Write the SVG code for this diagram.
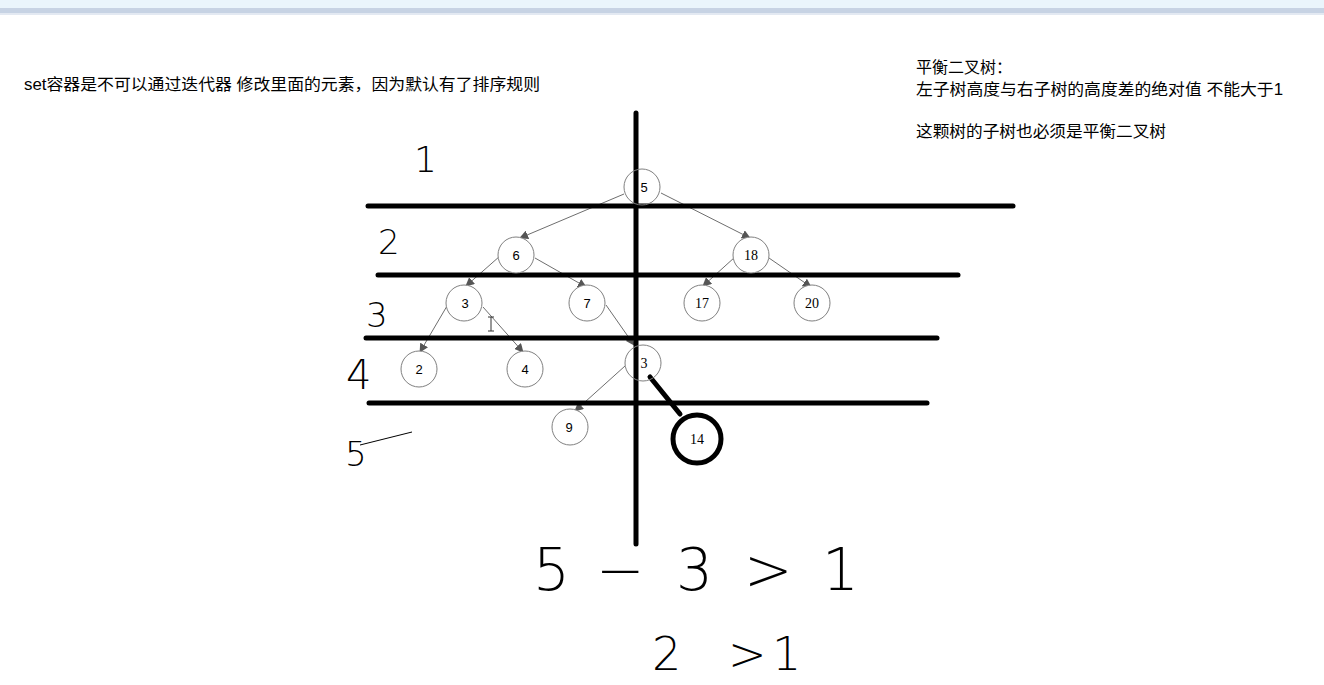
<svg xmlns="http://www.w3.org/2000/svg" width="1324" height="685" viewBox="0 0 1324 685">
<style>
.node circle{fill:#fff;stroke:#808080;stroke-width:1}
.lbl{font-family:"Liberation Sans",Arial,sans-serif;font-size:13px;fill:#000;text-anchor:middle}
.lbls{font-family:"Liberation Serif","Times New Roman",serif;font-size:14px;fill:#000;text-anchor:middle}
.edge{stroke:#6e6e6e;stroke-width:1;fill:none;marker-end:url(#arr)}
.bar{stroke:#000;stroke-width:5;stroke-linecap:round}
.note{font-family:"Liberation Sans","Noto Sans CJK SC",sans-serif;font-size:16px;fill:#000}
.hand{font-family:"DejaVu Sans","Liberation Sans",sans-serif;font-weight:200;fill:#000}
</style>
<defs>
<marker id="arr" viewBox="0 0 10 10" refX="9" refY="5" markerWidth="9" markerHeight="9" markerUnits="userSpaceOnUse" orient="auto">
<path d="M0,0 L10,5 L0,10 z" fill="#555"/>
</marker>
</defs>
<rect width="1324" height="685" fill="#fff"/>
<g id="topbar">
<rect x="0" y="0" width="1324" height="8" fill="#eaf5fc"/>
<rect x="0" y="8" width="1324" height="5" fill="#c7d3e4"/>
<rect x="0" y="13" width="1324" height="2" fill="#e3e9f2"/>
</g>
<g id="notes">
<text class="note" x="24" y="90" textLength="516" lengthAdjust="spacingAndGlyphs">set容器是不可以通过迭代器 修改里面的元素，因为默认有了排序规则</text>
<text class="note" x="916" y="73">平衡二叉树：</text>
<text class="note" x="916" y="95" textLength="367" lengthAdjust="spacingAndGlyphs">左子树高度与右子树的高度差的绝对值 不能大于1</text>
<text class="note" x="916" y="137" textLength="250" lengthAdjust="spacingAndGlyphs">这颗树的子树也必须是平衡二叉树</text>
</g>
<g id="connectors">
<line class="edge" x1="624" y1="194" x2="520" y2="238"/>
<line class="edge" x1="661" y1="193" x2="750" y2="238"/>
<line class="edge" x1="500" y1="256" x2="466" y2="286"/>
<line class="edge" x1="535" y1="258" x2="586" y2="287"/>
<line class="edge" x1="735" y1="257" x2="703" y2="286"/>
<line class="edge" x1="769" y1="258" x2="811" y2="287"/>
<line class="edge" x1="447" y1="306" x2="420" y2="352"/>
<line class="edge" x1="483" y1="307" x2="523" y2="352"/>
<line class="edge" x1="606" y1="305" x2="634" y2="345"/>
<line class="edge" x1="625" y1="366" x2="575" y2="411"/>
</g>
<g id="guides">
<line class="bar" x1="636" y1="113" x2="636" y2="544"/>
<line class="bar" x1="368" y1="206" x2="1013" y2="206"/>
<line class="bar" x1="378" y1="275" x2="958" y2="275"/>
<line class="bar" x1="366" y1="338" x2="937" y2="338"/>
<line class="bar" x1="369" y1="403" x2="927" y2="403"/>
<line class="bar" x1="650" y1="377" x2="680" y2="414"/>
</g>
<g id="n5" class="node"><circle cx="642" cy="187" r="18" style="fill:none"/><text class="lbl" x="644" y="192">5</text></g>
<g id="n6" class="node"><circle cx="516" cy="255" r="18"/><text class="lbl" x="516" y="260">6</text></g>
<g id="n18" class="node"><circle cx="751" cy="255" r="18"/><text class="lbls" x="751" y="260">18</text></g>
<g id="n3a" class="node"><circle cx="464" cy="303" r="18"/><text class="lbl" x="465" y="308">3</text></g>
<g id="n7" class="node"><circle cx="587" cy="303" r="18"/><text class="lbl" x="587" y="308">7</text></g>
<g id="n17" class="node"><circle cx="702" cy="303" r="18"/><text class="lbls" x="702" y="308">17</text></g>
<g id="n20" class="node"><circle cx="812" cy="303" r="18"/><text class="lbls" x="812" y="308">20</text></g>
<g id="n2" class="node"><circle cx="419" cy="369" r="18"/><text class="lbl" x="419" y="374">2</text></g>
<g id="n4" class="node"><circle cx="525" cy="369" r="18"/><text class="lbl" x="525" y="374">4</text></g>
<g id="n3b" class="node"><circle cx="643" cy="363" r="18" style="fill:none"/><text class="lbls" x="644" y="368">3</text></g>
<g id="n9" class="node"><circle cx="570" cy="427" r="18"/><text class="lbl" x="569" y="432">9</text></g>
<g id="n14" class="node"><circle cx="697" cy="439" r="24" style="fill:#fff;stroke:#000;stroke-width:5"/><text class="lbls" x="697" y="444">14</text></g>
<g id="cursor" stroke="#333" stroke-width="1" fill="none">
<line x1="491" y1="317" x2="491" y2="331"/>
<line x1="488" y1="317" x2="494" y2="317"/>
<line x1="488" y1="331" x2="494" y2="331"/>
</g>
<g id="handwriting">
<text class="hand" x="414" y="172" font-size="36">1</text>
<text class="hand" x="378" y="254" font-size="34">2</text>
<text class="hand" x="366" y="327" font-size="34">3</text>
<text class="hand" x="346" y="389" font-size="40">4</text>
<text class="hand" x="345" y="466" font-size="34">5</text>
<line x1="360" y1="445" x2="412" y2="432" stroke="#000" stroke-width="1"/>
<text class="hand" font-size="58" x="533 596 676 744 822" y="590">5−3&gt;1</text>
<text class="hand" font-size="46" x="652 728 772" y="670">2&gt;1</text>
</g>
</svg>
